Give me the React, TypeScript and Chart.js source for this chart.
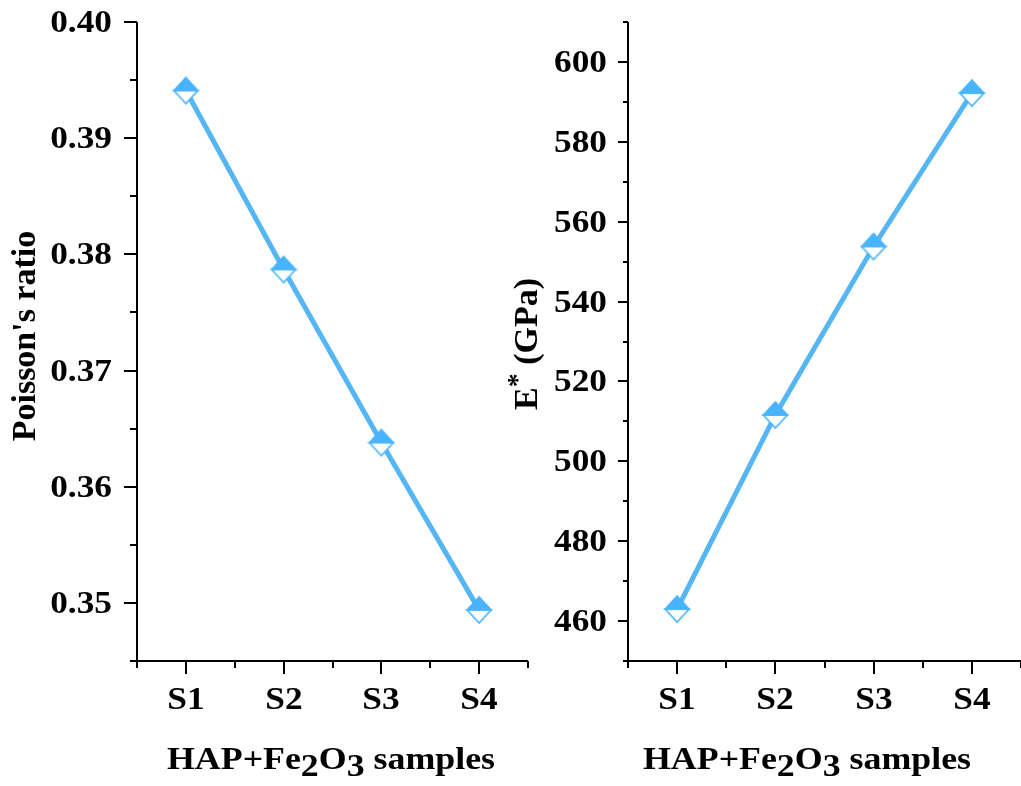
import React, { useEffect, useRef } from 'react';
import { Chart, registerables } from 'chart.js';

Chart.register(...registerables);

// ---------- data ----------
const categories = ['S1', 'S2', 'S3', 'S4'];
const poissonRatio = [0.3941, 0.3787, 0.3638, 0.3494];
const eStarGPa = [463.0, 511.6, 553.8, 592.2];
const poissonTickLabels = ['0.35', '0.36', '0.37', '0.38', '0.39', '0.40'];
const eStarTickLabels = ['460', '480', '500', '520', '540', '560', '580', '600'];

const FONT = "'Liberation Serif', 'Times New Roman', serif";
const LINE_COLOR = '#56B6F4';
const MARKER_COLOR = '#48B4FF';

type Seg = { text: string; dy?: number; size?: number };

function makeMarker(): HTMLCanvasElement {
  const c = document.createElement('canvas');
  c.width = 28;
  c.height = 30;
  const g = c.getContext('2d')!;
  const cx = 14, cy = 15, hw = 12, hh = 13;
  g.beginPath();
  g.moveTo(cx - hw, cy);
  g.lineTo(cx, cy + hh);
  g.lineTo(cx + hw, cy);
  g.closePath();
  g.fillStyle = '#fff';
  g.fill();
  g.strokeStyle = MARKER_COLOR;
  g.lineWidth = 1.6;
  g.stroke();
  g.beginPath();
  g.moveTo(cx - hw, cy);
  g.lineTo(cx, cy - hh);
  g.lineTo(cx + hw, cy);
  g.closePath();
  g.fillStyle = MARKER_COLOR;
  g.fill();
  g.stroke();
  return c;
}

function drawSegs(
  ctx: CanvasRenderingContext2D,
  segs: Seg[],
  size: number,
  sx: number
) {
  const widths = segs.map((s) => {
    ctx.font = `bold ${s.size ?? size}px ${FONT}`;
    return ctx.measureText(s.text).width;
  });
  const total = widths.reduce((a, b) => a + b, 0);
  ctx.save();
  ctx.scale(sx, 1);
  let x = -total / 2;
  ctx.textAlign = 'left';
  ctx.textBaseline = 'alphabetic';
  segs.forEach((s, i) => {
    ctx.font = `bold ${s.size ?? size}px ${FONT}`;
    ctx.fillText(s.text, x, s.dy ?? 0);
    x += widths[i];
  });
  ctx.restore();
}

const decorPlugin = {
  id: 'decor',
  afterDraw(chart: any, _args: any, o: any) {
    const ctx: CanvasRenderingContext2D = chart.ctx;
    const area = chart.chartArea;
    const xs = chart.scales.x;
    const ys = chart.scales.y;
    ctx.save();
    ctx.strokeStyle = '#000';
    ctx.fillStyle = '#000';
    ctx.lineWidth = 2;
    ctx.lineCap = 'butt';

    ctx.beginPath();
    ctx.moveTo(area.left, area.top);
    ctx.lineTo(area.left, area.bottom + 1);
    ctx.moveTo(area.left - 1, area.bottom);
    ctx.lineTo(area.right, area.bottom);
    ctx.stroke();

    xs.ticks.forEach((t: any) => {
      const lbl = o.xLabel(t.value);
      const px = Math.round(xs.getPixelForValue(t.value));
      const len = lbl ? o.xMajor : o.xMinor;
      ctx.beginPath();
      ctx.moveTo(px, area.bottom);
      ctx.lineTo(px, area.bottom + len);
      ctx.stroke();
      if (lbl) {
        ctx.save();
        ctx.translate(px, o.xLabelBaseline);
        ctx.scale(o.tickStretch, 1);
        ctx.font = `bold ${o.tickSize}px ${FONT}`;
        ctx.textAlign = 'center';
        ctx.textBaseline = 'alphabetic';
        ctx.fillText(lbl, 0, 0);
        ctx.restore();
      }
    });

    ys.ticks.forEach((t: any) => {
      const lbl = o.yLabel(t.value);
      const py = Math.round(ys.getPixelForValue(t.value));
      const len = lbl ? o.yMajor : o.yMinor;
      ctx.beginPath();
      ctx.moveTo(area.left, py);
      ctx.lineTo(area.left - len, py);
      ctx.stroke();
      if (lbl) {
        ctx.save();
        ctx.translate(o.yLabelRight, py + o.tickSize * 0.33);
        ctx.scale(o.tickStretch, 1);
        ctx.font = `bold ${o.tickSize}px ${FONT}`;
        ctx.textAlign = 'right';
        ctx.textBaseline = 'alphabetic';
        ctx.fillText(lbl, 0, 0);
        ctx.restore();
      }
    });

    ctx.save();
    ctx.translate(o.xTitleX, o.xTitleY);
    drawSegs(ctx, o.xTitle, o.xTitleSize, o.xTitleStretch);
    ctx.restore();

    ctx.save();
    ctx.translate(o.yTitleX, o.yTitleY);
    ctx.rotate(-Math.PI / 2);
    drawSegs(ctx, o.yTitle, o.yTitleSize, 1);
    ctx.restore();

    ctx.restore();
  },
};

const xTitleSegs: Seg[] = [
  { text: 'HAP+Fe' },
  { text: '2', dy: 7 },
  { text: 'O' },
  { text: '3', dy: 7 },
  { text: ' samples' },
];

function fmtMatch(v: number, labels: string[], digits: number): string {
  const s = v.toFixed(digits);
  return labels.includes(s) && Math.abs(parseFloat(s) - v) < 1e-6 ? s : '';
}

function xLabelFn(v: number): string {
  const r = Math.round(v);
  if (Math.abs(r - v) > 1e-6) return '';
  return categories[r - 1] ?? '';
}

function makeConfig(
  values: number[],
  yMin: number,
  yMax: number,
  yStep: number,
  yWidth: number,
  rightPad: number,
  decor: any
): any {
  return {
    type: 'line',
    data: {
      datasets: [
        {
          data: categories.map((_, i) => ({ x: i + 1, y: values[i] })),
          borderColor: LINE_COLOR,
          borderWidth: 5,
          tension: 0,
          pointStyle: makeMarker(),
          pointRadius: 13,
          clip: false,
        },
      ],
    },
    options: {
      animation: false,
      responsive: false,
      maintainAspectRatio: false,
      layout: {
        autoPadding: false,
        padding: { top: 22, right: rightPad, left: 0, bottom: 0 },
      },
      plugins: {
        legend: { display: false },
        tooltip: { enabled: false },
        decor,
      },
      scales: {
        x: {
          type: 'linear',
          min: 0.5,
          max: 4.5,
          ticks: { stepSize: 0.5, display: false, autoSkip: false },
          grid: { display: false },
          border: { display: false },
          afterFit: (s: any) => {
            s.height = 125;
            s.paddingLeft = 0;
            s.paddingRight = 0;
          },
        },
        y: {
          type: 'linear',
          min: yMin,
          max: yMax,
          ticks: { stepSize: yStep, display: false, autoSkip: false },
          grid: { display: false },
          border: { display: false },
          afterFit: (s: any) => {
            s.width = yWidth;
            s.paddingTop = 0;
            s.paddingBottom = 0;
          },
        },
      },
    },
    plugins: [decorPlugin],
  };
}

export default function App() {
  const leftRef = useRef<HTMLCanvasElement>(null);
  const rightRef = useRef<HTMLCanvasElement>(null);

  useEffect(() => {
    const left = new Chart(
      leftRef.current!,
      makeConfig(poissonRatio, 0.345, 0.4, 0.005, 137, 8, {
        xLabel: xLabelFn,
        yLabel: (v: number) => fmtMatch(v, poissonTickLabels, 2),
        xMajor: 13,
        xMinor: 7,
        yMajor: 13,
        yMinor: 7,
        tickSize: 31,
        tickStretch: 1.14,
        xLabelBaseline: 709,
        yLabelRight: 112,
        xTitle: xTitleSegs,
        xTitleSize: 32,
        xTitleStretch: 1.12,
        xTitleX: 331,
        xTitleY: 769,
        yTitle: [{ text: "Poisson's ratio" }],
        yTitleSize: 34,
        yTitleX: 35,
        yTitleY: 336,
      })
    );
    const right = new Chart(
      rightRef.current!,
      makeConfig(eStarGPa, 450, 610, 10, 128, 0, {
        xLabel: xLabelFn,
        yLabel: (v: number) => fmtMatch(v, eStarTickLabels, 0),
        xMajor: 13,
        xMinor: 7,
        yMajor: 10,
        yMinor: 5,
        tickSize: 31,
        tickStretch: 1.14,
        xLabelBaseline: 709,
        yLabelRight: 107,
        xTitle: xTitleSegs,
        xTitleSize: 32,
        xTitleStretch: 1.12,
        xTitleX: 307,
        xTitleY: 769,
        yTitle: [
          { text: 'E' },
          { text: '*', dy: -11, size: 28 },
          { text: ' (GPa)' },
        ],
        yTitleSize: 34,
        yTitleX: 37,
        yTitleY: 344,
      })
    );
    return () => {
      left.destroy();
      right.destroy();
    };
  }, []);

  return (
    <div
      style={{
        position: 'fixed',
        left: 0,
        top: 0,
        width: 1021,
        height: 786,
        background: '#fff',
        overflow: 'hidden',
      }}
    >
      <canvas
        ref={leftRef}
        width={536}
        height={786}
        style={{ position: 'absolute', left: 0, top: 0, width: 536, height: 786 }}
      />
      <canvas
        ref={rightRef}
        width={521}
        height={786}
        style={{ position: 'absolute', left: 500, top: 0, width: 521, height: 786 }}
      />
    </div>
  );
}
